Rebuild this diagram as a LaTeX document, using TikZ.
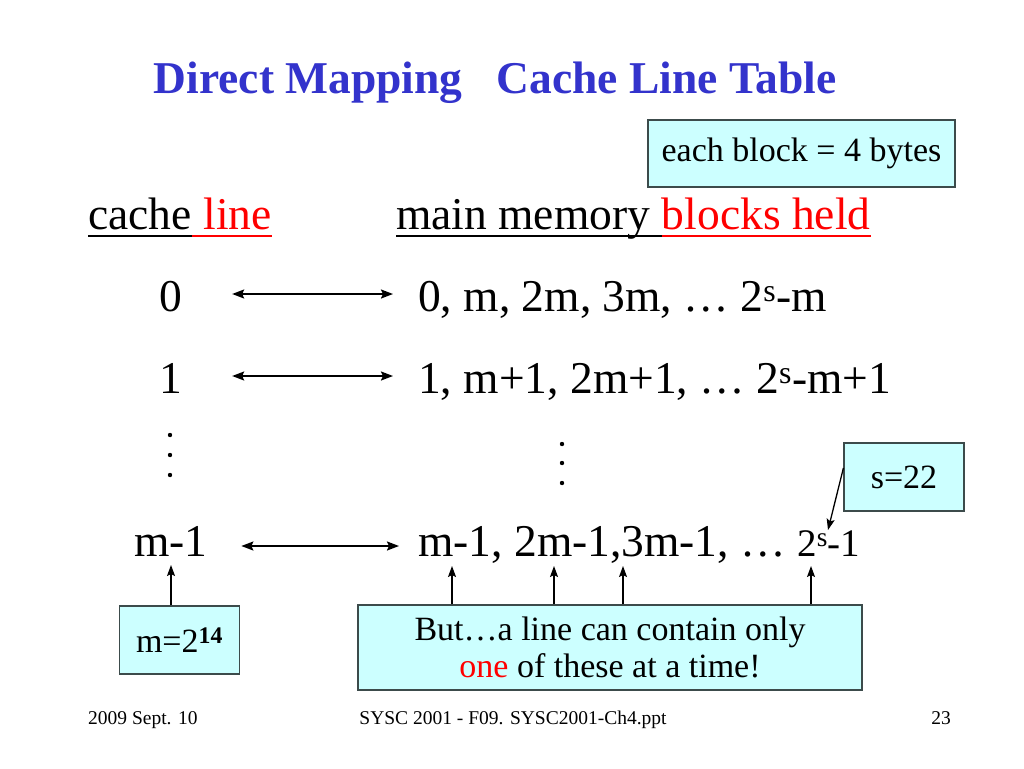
\documentclass[tikz,border=0pt]{standalone}
\usepackage{fontspec}
\setmainfont{Liberation Serif}
\usetikzlibrary{arrows.meta}
\definecolor{ttl}{RGB}{51,51,204}
\definecolor{boxfill}{RGB}{204,255,255}
\definecolor{boxline}{RGB}{60,75,75}
\definecolor{redtxt}{RGB}{255,0,0}
\begin{document}
\begin{tikzpicture}[x=1pt,y=-1pt,
  big/.style={font=\fontsize{45.5}{54}\selectfont, inner sep=0pt, anchor=base west},
  lbl/.style={font=\fontsize{45.5}{54}\selectfont, inner sep=0pt, anchor=base},
  cbox/.style={draw=boxline, fill=boxfill, line width=1.2pt, font=\fontsize{34}{38}\selectfont, inner sep=0pt},
  harrow/.style={{Stealth[length=12pt,width=9pt,inset=2pt]}-{Stealth[length=12pt,width=9pt,inset=2pt]}, line width=1.8pt},
  varrow/.style={-{Stealth[length=11pt,width=8pt,inset=2pt]}, line width=1.3pt},
  foot/.style={font=\fontsize{19.5}{22}\selectfont, inner sep=0pt, anchor=base west},
  uline/.style={line width=2pt},
]
\useasboundingbox (0,0) rectangle (1024,768);
\fill[white] (0,0) rectangle (1024,768);

% title
\node[font=\fontsize{45.5}{54}\selectfont\bfseries, text=ttl, anchor=base, inner sep=0pt] (title) at (495,93) {Direct Mapping\ \ \ Cache Line Table};

% note box
\node[cbox, minimum width=307pt, minimum height=67pt] (eb) at (801.5,153.5) {each block = 4 bytes};

% headers
\node[big] (hc) at (88,229) {cache};
\node[big, text=redtxt] (hl) at (hc.base east) {\rule{0.25em}{0pt}line};
\node[big] (hm) at (396,229) {main memory\rule{0.25em}{0pt}};
\node[big, text=redtxt] (hb) at (hm.base east) {blocks held};
\draw[uline] ([yshift=-7pt]hc.base west) -- ([yshift=-7pt]hc.base east);
\draw[uline, redtxt] ([yshift=-7pt]hl.base west) -- ([yshift=-7pt]hl.base east);
\draw[uline] ([yshift=-7pt]hm.base west) -- ([yshift=-7pt]hm.base east);
\draw[uline, redtxt] ([yshift=-7pt]hb.base west) -- ([yshift=-7pt]hb.base east);

% rows
\node[lbl] (l0) at (171,311) {0};
\node[big] (r0) at (418,311) {0, m, 2m, 3m, … 2\textsuperscript{s}-m};
\draw[harrow] ([shift={(49.6,-17)}]l0.base east) -- ([shift={(-25,-17)}]r0.base west);

\node[lbl] (l1) at (171,393) {1};
\node[big] (r1) at (418,393) {1, m+1, 2m+1, … 2\textsuperscript{s}-m+1};
\draw[harrow] ([shift={(49.6,-17)}]l1.base east) -- ([shift={(-25,-17)}]r1.base west);

\node[lbl] (lm) at (171,556) {m-1};
\node[big] (rm) at (418,556) {m-1, 2m-1,3m-1, … {\fontsize{39}{46}\selectfont 2\textsuperscript{s}-1}};
\draw[harrow] ([shift={(33.5,-10)}]lm.base east) -- ([shift={(-19,-10)}]rm.base west);

% vertical ellipses
\foreach \yy in {435,455,475} \fill (170,\yy) circle (2.2);
\foreach \yy in {444,463,483} \fill (562,\yy) circle (2.2);

% s=22
\node[cbox, minimum width=120pt, minimum height=68pt] (s22) at (904,477) {s=22};
\coordinate (stip) at (828,530);
\draw[varrow] ([yshift=9pt]s22.west) -- (stip);

% m=2^14
\node[cbox, minimum width=120pt, minimum height=68pt] (m14) at (179.5,640) {m=2\textsuperscript{\textbf{14}}};
\coordinate (mtip) at (171,565);
\draw[varrow] (m14.north -| mtip) -- (mtip);

% But box
\node[cbox, minimum width=504pt, minimum height=85pt, align=center, font=\fontsize{34}{37}\selectfont] (but) at (610,647.5) {But…a line can contain only\\ \textcolor{redtxt}{one} of these at a time!};
\foreach \xx [count=\i] in {452,554,623,811} {
  \coordinate (bt\i) at (\xx,566);
  \draw[varrow] (but.north -| bt\i) -- (bt\i);
}

% footer
\node[foot] (f1) at (88,724) {2009 Sept. 10};
\node[foot, anchor=base] (f2) at (513,724) {SYSC 2001 - F09. SYSC2001-Ch4.ppt};
\node[foot, anchor=base east] (f3) at (951,724) {23};
\end{tikzpicture}
\end{document}
